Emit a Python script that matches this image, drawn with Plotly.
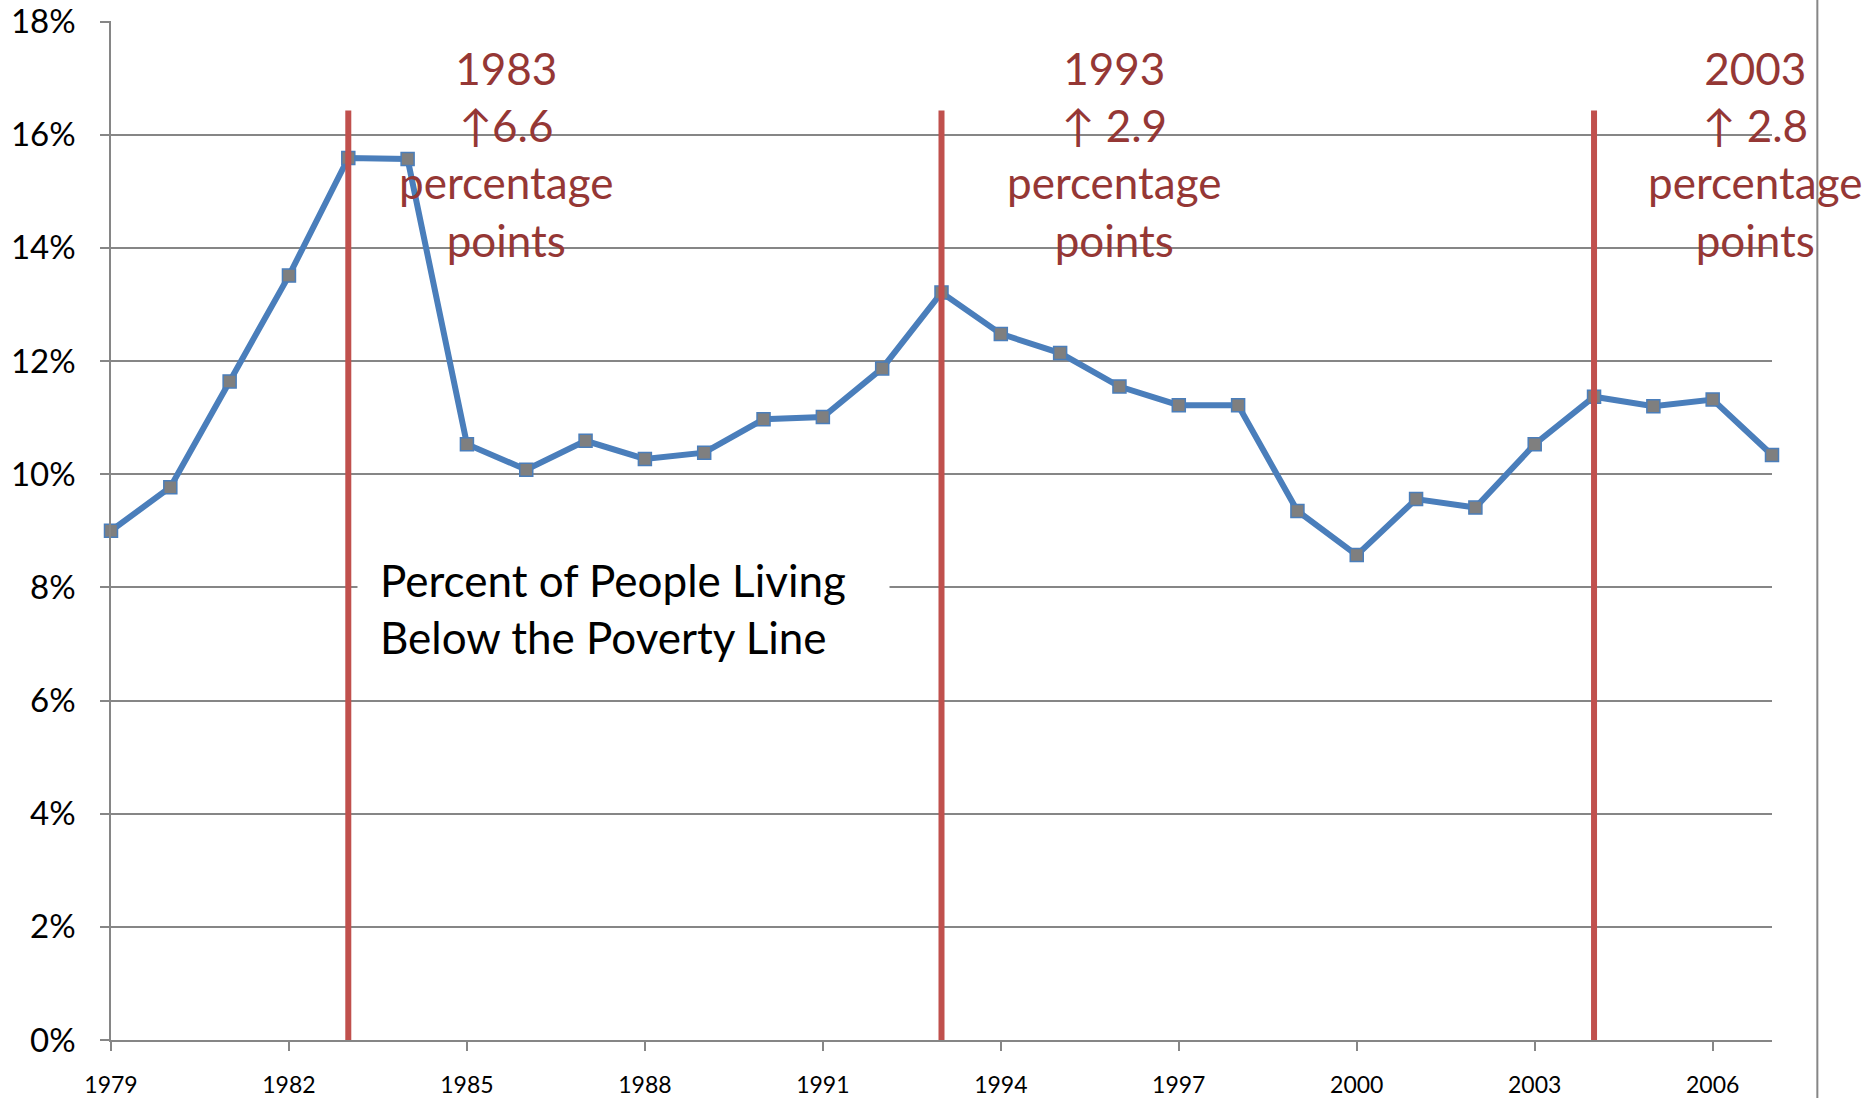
import plotly.graph_objects as go

years = list(range(1979, 2008))
poverty_pct = [9.0, 9.77, 11.64, 13.51, 15.59, 15.57, 10.53, 10.08, 10.59, 10.27,
               10.38, 10.97, 11.01, 11.87, 13.21, 12.48, 12.14, 11.55, 11.22, 11.22,
               9.35, 8.57, 9.56, 9.41, 10.53, 11.37, 11.20, 11.32, 10.34]

x_tick_years = [1979, 1982, 1985, 1988, 1991, 1994, 1997, 2000, 2003, 2006]
y_ticks = [0, 2, 4, 6, 8, 10, 12, 14, 16, 18]

event_line_years = [1983, 1993, 2004]
event_line_top = 16.43

ann_labels = ["1983", "1993", "2003"]
ann_changes = ["↑6.6", "↑ 2.9", "↑ 2.8"]
ann_x = [1985.67, 1995.91, 2006.72]
ann_y = 15.66

legend_text = "Percent of People Living<br>Below the Poverty Line"

FONT = "Lato"
BLUE = "#4A7EBB"
RED = "#C0504D"
DARKRED = "#953735"
GRID = "#868686"

fig = go.Figure()

fig.add_trace(go.Scatter(
    x=years, y=poverty_pct, mode="lines+markers",
    line=dict(color=BLUE, width=6),
    marker=dict(symbol="square", size=13, color="#7F7F7F",
                line=dict(color=BLUE, width=1.5)),
    showlegend=False, hoverinfo="x+y", cliponaxis=False,
))

for yr in event_line_years:
    fig.add_trace(go.Scatter(
        x=[yr, yr], y=[0, event_line_top], mode="lines",
        line=dict(color=RED, width=6), showlegend=False, hoverinfo="skip",
    ))

for lab, ch, xx in zip(ann_labels, ann_changes, ann_x):
    fig.add_annotation(
        x=xx, y=ann_y, xref="x", yref="y",
        text=f"{lab}<br>{ch}<br>percentage<br>points",
        showarrow=False, align="center", xanchor="center", yanchor="middle",
        font=dict(family=FONT, size=44, color=DARKRED),
    )

fig.add_annotation(
    x=1979 + (357 - 110.6) / 59.32, y=7.62, xref="x", yref="y",
    text=legend_text, showarrow=False, align="left",
    xanchor="left", yanchor="middle", width=487,
    font=dict(family=FONT, size=44, color="black"),
    bgcolor="white", borderpad=22,
)

# outer right border line of the chart area
fig.add_shape(type="line", xref="paper", yref="paper",
              x0=1.0273, x1=1.0273, y0=-0.07, y1=1.03,
              line=dict(color=GRID, width=2))

fig.update_layout(
    width=1864, height=1098,
    margin=dict(l=111, r=92, t=21, b=58),
    plot_bgcolor="white", paper_bgcolor="white",
    font=dict(family=FONT, color="black"),
    xaxis=dict(
        range=[1979, 2007], tickvals=x_tick_years,
        ticktext=[str(v) for v in x_tick_years],
        showgrid=False, zeroline=False, automargin=False,
        showline=True, linecolor=GRID, linewidth=2,
        ticks="outside", ticklen=9, tickcolor=GRID, tickwidth=1.5,
        tickfont=dict(family=FONT, size=23, color="black"),
        ticklabelstandoff=14,
    ),
    yaxis=dict(
        range=[0, 18.01], tickvals=y_ticks,
        ticktext=[f"{v}%" for v in y_ticks],
        showgrid=True, gridcolor=GRID, gridwidth=2,
        zeroline=False, automargin=False,
        showline=True, linecolor=GRID, linewidth=1.5,
        ticks="outside", ticklen=9, tickcolor=GRID, tickwidth=1.5,
        tickfont=dict(family=FONT, size=33, color="black"),
        ticklabelstandoff=18,
    ),
)

fig.write_html("out.html", config={"displayModeBar": False},
               post_script="document.body.style.margin='0';")
